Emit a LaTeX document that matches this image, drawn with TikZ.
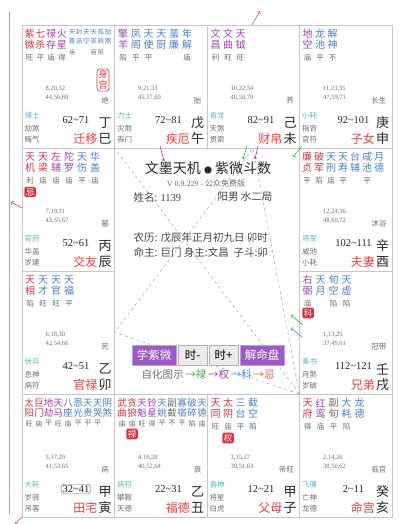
\documentclass[tikz,border=0pt]{standalone}
\usepackage{fontspec}
\setmainfont{Liberation Serif}
\newfontfamily\cjk{Noto Sans CJK SC}
\usepackage{tikz}
\usetikzlibrary{arrows}

\definecolor{hong}{RGB}{222,50,62}
\definecolor{zi}{RGB}{165,62,185}
\definecolor{lan}{RGB}{70,130,200}
\definecolor{hui}{RGB}{110,110,110}
\definecolor{qing}{RGB}{80,190,190}
\definecolor{gmhong}{RGB}{240,60,60}
\definecolor{gzhei}{RGB}{40,40,40}
\definecolor{xianhui}{RGB}{200,200,200}
\definecolor{wenzi}{RGB}{70,70,70}
\definecolor{anzi}{RGB}{155,90,200}
\definecolor{lvse}{RGB}{60,170,70}
\definecolor{quanse}{RGB}{160,60,180}
\definecolor{kese}{RGB}{60,140,230}
\definecolor{jise}{RGB}{240,80,80}

\newcommand{\zh}[1]{\fontsize{#1}{#1}\selectfont\cjk}
\newcommand{\til}{\textasciitilde}

% stars: id, x0, pitch, y1, y2, y3, size, bright size, list
\newcommand{\xing}[9]{%
  \foreach \xc/\xa/\xb/\xl [count=\i from 0] in {#9}{
    \node[xing,text=\xc,font=\zh{#7}] (#1a\i) at ({#2+\i*#3},#4) {\xa};
    \node[xing,text=\xc,font=\zh{#7}] (#1b\i) at ({#2+\i*#3},#5) {\xb};
    \node[xing,text=hui,font=\zh{#8}] (#1l\i) at ({#2+\i*#3},#6) {\xl};
  }}
% lower part of a palace
\newcommand{\gong}[7]{%
  \node[shu,anchor=west] (#1n1) at (23.5,64) {#2};
  \node[shu,anchor=west] (#1n2) at (23.5,73) {#3};
  \node[xiao,anchor=east] (#1cs) at (87,76) {#4};
  \node[xiao,anchor=west,text=qing] (#1bs) at (2.5,91) {#5};
  \node[xiao,anchor=west] (#1s1) at (2.5,103.5) {#6};
  \node[xiao,anchor=west] (#1s2) at (2.5,115) {#7};
}
\newcommand{\ming}[6][]{%
  \node[dx,#1] (#2dx) at (54,95) {#3};
  \node[gm,anchor=east] (#2gm) at (75.5,113.5) {#4};
  \node[gz] (#2g) at (83,98) {#5};
  \node[gz] (#2z) at (83,113.5) {#6};
}

\begin{document}
\begin{tikzpicture}[x=1pt, y=-1pt,
  xing/.style={inner sep=0pt},
  shu/.style={inner sep=0pt, font=\fontsize{6.5}{6.5}\selectfont, text=hui},
  xiao/.style={inner sep=0pt, font=\zh{7.5}, text=hui},
  dx/.style={inner sep=0pt, font=\fontsize{10.5}{10.5}\selectfont, text=gzhei},
  gm/.style={inner sep=0pt, font=\zh{12}, text=gmhong},
  gz/.style={inner sep=0pt, font=\zh{13}, text=gzhei},
  hua/.style={fill=hong, text=white, rounded corners=1.5pt, inner sep=1.5pt, font=\zh{8.5}},
  shengong/.style={draw=hong, text=hong, fill=white, rounded corners=3pt, inner sep=1.5pt,
    align=center, font={\fontsize{9}{11}\selectfont\cjk}, line width=0.6pt},
  gezi/.style={draw=xianhui, line width=0.8pt},
  sanfang/.style={draw=black!35, dashed, line width=0.5pt},
  zihua/.style={->, line width=0.6pt},
  anniu/.style={fill=anzi, text=white, draw=anzi!60, minimum height=20pt, inner sep=0pt, font=\zh{11.5}},
  huian/.style={fill=black!8, text=black, draw=black!30, minimum height=20pt, inner sep=0pt, font=\zh{11.5}},
]
\useasboundingbox (0,0) rectangle (402,524);

% grid
\foreach \x/\y in {22/25, 114.5/25, 207/25, 299.5/25, 22/148, 299.5/148,
  22/271, 299.5/271, 22/394, 114.5/394, 207/394, 299.5/394}
  \draw[gezi] (\x,\y) rectangle ++(92.5,123);
\coordinate (bianshang) at (9,12);
\coordinate (bianxia) at (9,514);
\draw[draw=black!35, line width=0.8pt] (bianshang) -- (bianxia);

% san fang si zheng
\coordinate (ming) at (299.5,394);
\coordinate (qian) at (114.5,148);
\coordinate (cai) at (253,148);
\coordinate (guan) at (114.5,332.5);
\draw[sanfang] (ming) -- (qian);
\draw[sanfang] (ming) -- (cai) -- (guan) -- (ming);

% ding si
\begin{scope}[shift={(22,25)}]
\xing{si}{7.5}{10.8}{9}{19.5}{33}{10}{7.5}{hong/紫/微/旺, hong/七/杀/平, zi/禄/存/庙, zi/火/星/得}
\xing{sif}{50}{7.2}{7}{16}{27}{6.5}{6}{lan/天/喜/庙, lan/封/诰/{}, lan/天/空/{}, lan/天/巫/庙, lan/孤/辰/陷, lan/劫/煞/{}}
\node[shengong] (sishen) at (81,55) {身\\宫};
\gong{si}{8,20,32}{44,56,68}{绝}{博士}{劫煞}{晦气}
\ming{si}{62\til71}{迁移}{丁}{巳}
\end{scope}

% wu wu
\begin{scope}[shift={(114.5,25)}]
\xing{wu}{8.5}{12.8}{9}{19.5}{33}{10}{7.5}{zi/擎/羊/陷, lan/凤/阁/平, lan/天/使/平, lan/天/厨/{}, lan/蜚/廉/{}, lan/年/解/庙}
\gong{wu}{9,21,33}{45,57,69}{胎}{力士}{灾煞}{丧门}
\ming{wu}{72\til81}{疾厄}{戊}{午}
\end{scope}

% ji wei
\begin{scope}[shift={(207,25)}]
\xing{wei}{8.5}{12.5}{9}{19.5}{33}{10}{7.5}{zi/文/昌/利, zi/文/曲/旺, zi/天/钺/旺}
\gong{wei}{10,22,34}{46,58,70}{养}{青龙}{天煞}{贯索}
\ming{wei}{82\til91}{财帛}{己}{未}
\end{scope}

% geng shen
\begin{scope}[shift={(299.5,25)}]
\xing{shen}{8}{12.5}{9}{19.5}{33}{10}{7.5}{zi/地/空/庙, lan/龙/池/平, lan/解/神/不}
\gong{shen}{11,23,35}{47,59,71}{长生}{小耗}{指背}{官符}
\ming{shen}{92\til101}{子女}{庚}{申}
\end{scope}

% bing chen
\begin{scope}[shift={(22,148)}]
\xing{chen}{8}{13}{9}{19.5}{33}{10}{7.5}{hong/天/机/利, hong/天/梁/庙, zi/左/辅/庙, zi/陀/罗/庙, lan/天/伤/平, lan/华/盖/庙}
\node[hua] (chenji) at (8,44) {忌};
\gong{chen}{7,19,31}{43,55,67}{墓}{官府}{华盖}{岁建}
\ming{chen}{52\til61}{交友}{丙}{辰}
\end{scope}

% xin you
\begin{scope}[shift={(299.5,148)}]
\xing{you}{7.5}{12}{9}{19.5}{33}{10}{7.5}{hong/廉/贞/平, hong/破/军/陷, lan/天/刑/庙, lan/天/寿/平, lan/台/辅/{}, lan/咸/池/平, lan/月/德/{}}
\gong{you}{12,24,36}{48,60,72}{沐浴}{将军}{咸池}{小耗}
\ming{you}{102\til111}{夫妻}{辛}{酉}
\end{scope}

% yi mao
\begin{scope}[shift={(22,271)}]
\xing{mao}{8}{13}{9}{19.5}{33}{10}{7.5}{hong/天/相/陷, lan/天/才/旺, lan/天/官/旺, lan/天/福/平}
\gong{mao}{6,18,30}{42,54,66}{死}{伏兵}{息神}{病符}
\ming{mao}{42\til51}{官禄}{乙}{卯}
\end{scope}

% ren xu
\begin{scope}[shift={(299.5,271)}]
\xing{xu}{8}{13}{9}{19.5}{33}{10}{7.5}{zi/右/弼/庙, lan/天/月/{}, lan/旬/空/陷, lan/天/虚/陷}
\node[hua] (xuke) at (8.5,42) {科};
\gong{xu}{1,13,25}{37,49,61}{冠带}{奏书}{月煞}{岁破}
\ming{xu}{112\til121}{兄弟}{壬}{戌}
\end{scope}

% jia yin
\begin{scope}[shift={(22,394)}]
\xing{yin}{7}{9.8}{9}{19}{29.5}{9.5}{7}{hong/太/阳/旺, hong/巨/门/庙, zi/地/劫/平, zi/天/马/旺, lan/八/座/庙, lan/恩/光/平, lan/天/贵/平, lan/天/哭/平, lan/阴/煞/{}}
\gong{yin}{5,17,29}{41,53,65}{病}{大耗}{岁驿}{吊客}
\ming[draw=hui, rounded corners=3pt, inner xsep=1.5pt, inner ysep=1.2pt]{yin}{32\til41}{田宅}{甲}{寅}
\end{scope}

% yi chou
\begin{scope}[shift={(114.5,394)}]
\xing{chou}{7.5}{10}{9}{19}{29.5}{9.5}{7}{hong/武/曲/庙, hong/贪/狼/庙, zi/天/魁/旺, zi/铃/星/得, lan/天/姚/平, hui/副/截/不, lan/寡/宿/平, lan/破/碎/陷, lan/天/德/庙}
\node[hua] (choulu) at (17.5,40) {禄};
\gong{chou}{4,16,28}{40,52,64}{衰}{病符}{攀鞍}{天德}
\ming{chou}{22\til31}{福德}{乙}{丑}
\end{scope}

% jia zi
\begin{scope}[shift={(207,394)}]
\xing{zi}{8.5}{12.5}{9}{19.5}{33}{10}{7.5}{hong/天/同/旺, hong/太/阴/庙, lan/三/台/平, lan/截/空/陷}
\node[hua] (ziquan) at (21,44) {权};
\gong{zi}{3,15,27}{39,51,63}{帝旺}{喜神}{将星}{白虎}
\ming{zi}{12\til21}{父母}{甲}{子}
\end{scope}

% gui hai
\begin{scope}[shift={(299.5,394)}]
\xing{hai}{8}{13}{9}{19.5}{33}{10}{7.5}{hong/天/府/得, zi/红/鸾/庙, hui/副/旬/平, lan/大/耗/陷, lan/龙/德/{}}
\gong{hai}{2,14,26}{38,50,62}{临官}{飞廉}{亡神}{龙德}
\ming{hai}{2\til11}{命宫}{癸}{亥}
\end{scope}

% centre
\node[font=\zh{14}, text=gzhei] (biaoti) at (208,168) {文墨天机 {\fontsize{8}{8}\selectfont ●} 紫微斗数};
\node[font=\fontsize{8}{8}\selectfont, text=hui] (banben) at (206,183) {V 0.9.229 - {\cjk 公众免费版}};
\node[anchor=west, font=\zh{10.5}, text=wenzi] (xingming) at (130,197) {姓名: {\rmfamily 1139}};
\node[anchor=west, font=\zh{10.5}, text=wenzi] (yinyang) at (214,197) {阳男 水二局};
\node[anchor=west, font=\zh{10.5}, text=wenzi] (nongli) at (130,238) {农历: 戊辰年正月初九日 卯时};
\node[anchor=west, font=\zh{10.5}, text=wenzi] (mingzhu) at (130,252) {命主: 巨门 身主:文昌 \ 子斗:卯};
\node[anniu, minimum width=44pt] (xue) at (154,355) {学紫微};
\node[huian, minimum width=29pt] (shijian) at (192.5,355) {时-};
\node[huian, minimum width=29pt] (shijia) at (223.5,355) {时+};
\node[anniu, minimum width=44pt] (jieming) at (262,355) {解命盘};
\node[font=\zh{10.5}] (tushi) at (208,375) {\textcolor{hui}{自化图示}\,\textcolor{lvse}{→禄}\,\textcolor{quanse}{→权}\,\textcolor{kese}{→科}\,\textcolor{jise}{→忌}};

% zi hua arrows
\coordinate (a1) at (252,25);  \coordinate (b1) at (260,11);
\coordinate (a2) at (22,208);  \coordinate (b2) at (11,202);
\coordinate (a3) at (22,517);  \coordinate (b3) at (15,523.5);
\coordinate (a4) at (160,146); \coordinate (b4) at (164,161);
\coordinate (a5) at (247,146); \coordinate (b5) at (243,159);
\coordinate (a6) at (258,146); \coordinate (b6) at (255,159);
\coordinate (a7) at (302,146); \coordinate (b7) at (293,157);
\coordinate (a8) at (303,325); \coordinate (b8) at (291,315);
\coordinate (a9) at (302,337); \coordinate (b9) at (291,328);
\draw[zihua, jise] (a1) -- (b1);
\draw[zihua, quanse] (a2) -- (b2);
\draw[zihua, jise] (a3) -- (b3);
\draw[zihua, quanse] (a4) -- (b4);
\draw[zihua, lvse] (a5) -- (b5);
\draw[zihua, quanse] (a6) -- (b6);
\draw[zihua, lvse] (a7) -- (b7);
\draw[zihua, lvse] (a8) -- (b8);
\draw[zihua, kese] (a9) -- (b9);
\end{tikzpicture}
\end{document}
